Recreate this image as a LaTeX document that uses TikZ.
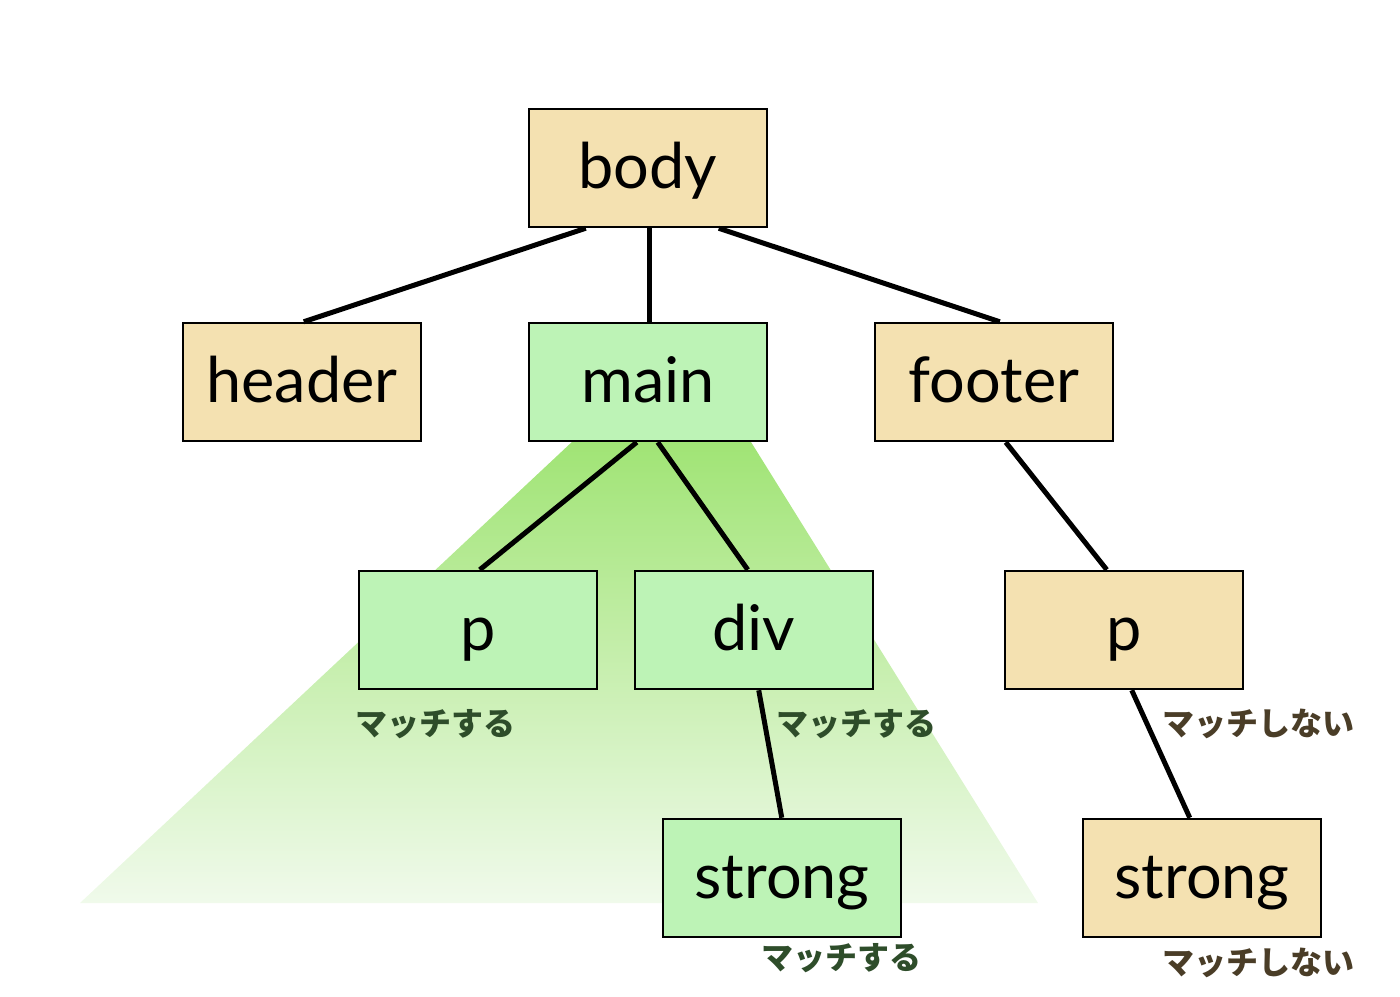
\documentclass[tikz,border=0pt]{standalone}
\usepackage{fontspec}
\setmainfont{Lato}
\newfontfamily\jpfont{Noto Sans CJK JP}
\usetikzlibrary{calc}
\definecolor{beige}{HTML}{F4E1B1}
\definecolor{boxgreen}{HTML}{BDF3B6}
\definecolor{trtop}{HTML}{8EDF5A}
\definecolor{trbot}{HTML}{F0FAEB}
\definecolor{okgreen}{HTML}{2E4D2A}
\definecolor{ngbrown}{HTML}{4A3D27}
\tikzset{
  tbox/.style={draw=black, line width=2.5pt, minimum width=238pt, inner sep=0pt,
    text height=79pt, text depth=39pt, font=\fontsize{63}{70}\selectfont},
  beigebox/.style={tbox, fill=beige},
  greenbox/.style={tbox, fill=boxgreen},
  conn/.style={line width=5pt, black},
  oklabel/.style={anchor=west, inner sep=0pt, text=okgreen, font=\jpfont\bfseries\fontsize{32}{34}\selectfont},
  nglabel/.style={anchor=west, inner sep=0pt, text=ngbrown, font=\jpfont\bfseries\fontsize{32}{34}\selectfont},
}
\begin{document}
\begin{tikzpicture}[x=1pt, y=-1pt]
\useasboundingbox (0,0) rectangle (1400,996);
% shaded triangle
\shade[top color=trtop, bottom color=trbot] (685,336) -- (1038,903) -- (80,903) -- cycle;

% nodes
\node[beigebox] (body) at (648,168) {body};
\node[beigebox] (header) at (302,382) {header};
\node[greenbox] (main) at (648,382) {main};
\node[beigebox] (footer) at (994,382) {footer};
\node[greenbox] (p1) at (478,630) {p};
\node[greenbox] (div) at (754,630) {div};
\node[beigebox] (p2) at (1124,630) {p};
\node[greenbox] (strong1) at (782,878) {strong};
\node[beigebox] (strong2) at (1202,878) {strong};

% connectors
\draw[conn] ($(body.south west)+(58,0)$) -- ($(header.north west)+(122,0)$);
\draw[conn] ($(body.south west)+(122,0)$) -- ($(main.north west)+(122,0)$);
\draw[conn] ($(body.south west)+(191,0)$) -- ($(footer.north west)+(126,0)$);
\draw[conn] ($(main.south west)+(109,0)$) -- ($(p1.north west)+(122,0)$);
\draw[conn] ($(main.south west)+(130,0)$) -- ($(div.north west)+(114,0)$);
\draw[conn] ($(footer.south west)+(132,0)$) -- ($(p2.north west)+(103,0)$);
\draw[conn] ($(div.south west)+(125,0)$) -- ($(strong1.north west)+(120,0)$);
\draw[conn] ($(p2.south west)+(128,0)$) -- ($(strong2.north west)+(108,0)$);

% labels
\node[oklabel] (l1) at (355,724) {マッチする};
\node[oklabel] (l2) at (776,724) {マッチする};
\node[oklabel] (l3) at (761,958) {マッチする};
\node[nglabel] (l4) at (1162,724) {マッチしない};
\node[nglabel] (l5) at (1162,963) {マッチしない};
\end{tikzpicture}
\end{document}
